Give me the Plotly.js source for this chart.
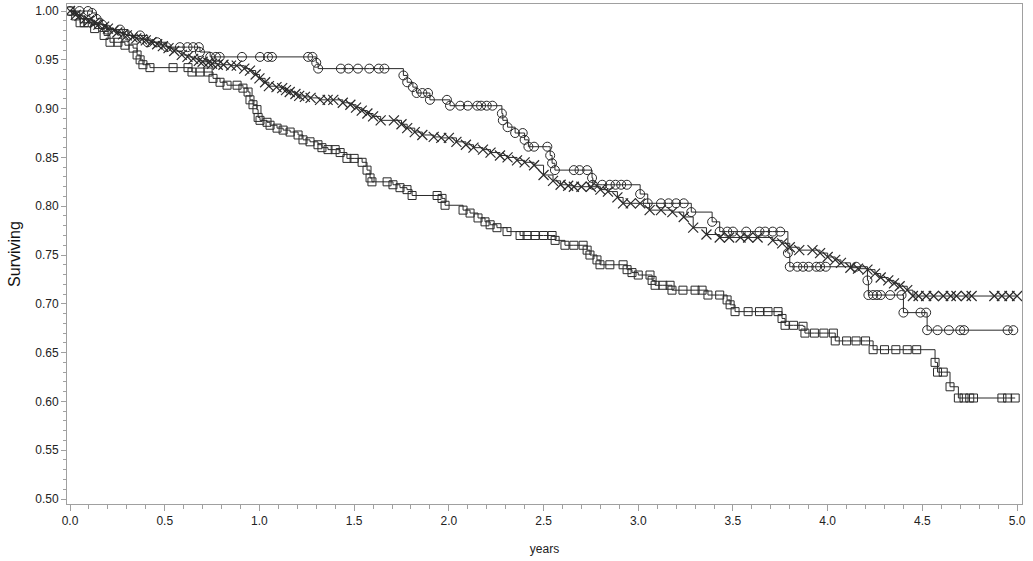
<!DOCTYPE html>
<html>
<head>
<meta charset="utf-8">
<script src="https://cdn.plot.ly/plotly-3.0.1.min.js"></script>
<style>
  body { margin: 0; background: #fff; }
  #plot { width: 1033px; height: 561px; }
</style>
</head>
<body>
<div id="plot"></div>
<script>
// Kaplan-Meier style survival curves, three groups.

// group drawn with circles
var tCirc = [0, 0.05, 0.095, 0.116, 0.14, 0.17, 0.195, 0.264, 0.306, 0.37, 0.41, 0.46, 0.51, 0.58, 0.62, 0.65, 0.68,
    0.686, 0.74, 0.77, 0.79, 0.908, 1.003, 1.045, 1.066, 1.257, 1.28, 1.30, 1.31, 1.43, 1.47, 1.52,
    1.58, 1.63, 1.66, 1.76, 1.78, 1.81, 1.83, 1.86, 1.89, 1.90, 1.99, 2.006, 2.06, 2.10, 2.15,
    2.17, 2.20, 2.23, 2.28, 2.285, 2.31, 2.35, 2.39, 2.40, 2.42, 2.45, 2.52, 2.535, 2.545, 2.56,
    2.66, 2.69, 2.73, 2.756, 2.76, 2.81, 2.85, 2.88, 2.91, 2.94, 3.01, 3.05, 3.12, 3.16, 3.20,
    3.24, 3.28, 3.39, 3.43, 3.47, 3.50, 3.57, 3.64, 3.67, 3.71, 3.75, 3.79, 3.80, 3.84, 3.87, 3.90,
    3.94, 3.96, 3.99, 4.15, 4.21, 4.215, 4.24, 4.26, 4.28, 4.33, 4.39, 4.40, 4.49, 4.52, 4.525,
    4.58, 4.64, 4.70, 4.72, 4.95, 4.98];
var sCirc = [1.0, 1.0, 1.0, 0.998, 0.992, 0.986, 0.981, 0.981, 0.975, 0.975, 0.968, 0.968, 0.963, 0.963, 0.963, 0.963, 0.963,
    0.958, 0.953, 0.953, 0.953, 0.953, 0.953, 0.953, 0.953, 0.953, 0.953, 0.947, 0.941, 0.941, 0.941, 0.941,
    0.941, 0.941, 0.941, 0.934, 0.927, 0.922, 0.916, 0.916, 0.916, 0.909, 0.909, 0.903, 0.903, 0.903, 0.903,
    0.903, 0.903, 0.903, 0.895, 0.888, 0.881, 0.875, 0.875, 0.868, 0.861, 0.861, 0.861, 0.852, 0.844, 0.837,
    0.837, 0.837, 0.837, 0.829, 0.822, 0.822, 0.822, 0.822, 0.822, 0.822, 0.8125, 0.803, 0.803, 0.803, 0.803,
    0.803, 0.794, 0.784, 0.774, 0.774, 0.774, 0.774, 0.774, 0.774, 0.774, 0.774, 0.752, 0.738, 0.738, 0.738, 0.738,
    0.738, 0.738, 0.738, 0.738, 0.724, 0.709, 0.709, 0.709, 0.709, 0.709, 0.709, 0.691, 0.691, 0.691, 0.673,
    0.673, 0.673, 0.673, 0.673, 0.673, 0.673];

// group drawn with crosses
var tCross = [0, 0.03, 0.05, 0.08, 0.1, 0.13, 0.15, 0.18, 0.2, 0.23, 0.25, 0.28, 0.3, 0.33, 0.35, 0.38, 0.40,
    0.43, 0.46, 0.49, 0.52, 0.55, 0.59, 0.62, 0.65, 0.68, 0.70, 0.73, 0.75, 0.78, 0.81, 0.85, 0.88,
    0.92, 0.95, 0.98, 1.0, 1.03, 1.05, 1.09, 1.12, 1.14, 1.16, 1.19, 1.21, 1.24, 1.27, 1.32, 1.36,
    1.39, 1.44, 1.48, 1.51, 1.54, 1.57, 1.60, 1.64, 1.71, 1.75, 1.78, 1.82, 1.86, 1.92, 1.96, 2.0,
    2.04, 2.09, 2.13, 2.18, 2.22, 2.27, 2.31, 2.36, 2.40, 2.45, 2.50, 2.55, 2.59, 2.63, 2.66, 2.70,
    2.75, 2.80, 2.84, 2.89, 2.92, 2.96, 3.01, 3.06, 3.12, 3.18, 3.24, 3.29, 3.36, 3.43, 3.48, 3.54,
    3.58, 3.63, 3.71, 3.76, 3.80, 3.85, 3.92, 3.96, 4.0, 4.04, 4.07, 4.12, 4.16, 4.21, 4.25, 4.28,
    4.32, 4.35, 4.38, 4.42, 4.45, 4.48, 4.52, 4.56, 4.61, 4.65, 4.68, 4.73, 4.76, 4.88, 4.92, 4.96, 5.0];
var sCross = [1.0, 0.996, 0.995, 0.992, 0.99, 0.988, 0.986, 0.984, 0.982, 0.980, 0.978, 0.976, 0.975, 0.973, 0.972, 0.971, 0.970,
    0.968, 0.966, 0.964, 0.962, 0.959, 0.955, 0.953, 0.951, 0.949, 0.948, 0.947, 0.946, 0.945, 0.945, 0.944, 0.944,
    0.941, 0.939, 0.935, 0.931, 0.927, 0.923, 0.922, 0.921, 0.919, 0.917, 0.915, 0.913, 0.912, 0.911, 0.909, 0.909,
    0.909, 0.906, 0.904, 0.901, 0.898, 0.895, 0.892, 0.888, 0.888, 0.884, 0.880, 0.876, 0.873, 0.871, 0.870, 0.870,
    0.866, 0.863, 0.860, 0.858, 0.855, 0.852, 0.850, 0.847, 0.845, 0.842, 0.832, 0.826, 0.822, 0.821, 0.820, 0.820,
    0.820, 0.817, 0.815, 0.809, 0.803, 0.803, 0.803, 0.796, 0.796, 0.794, 0.789, 0.778, 0.771, 0.768, 0.768, 0.768,
    0.768, 0.768, 0.765, 0.762, 0.758, 0.755, 0.755, 0.752, 0.748, 0.745, 0.742, 0.737, 0.736, 0.735, 0.731, 0.727,
    0.724, 0.721, 0.718, 0.714, 0.708, 0.708, 0.708, 0.708, 0.708, 0.708, 0.708, 0.708, 0.708, 0.708, 0.708, 0.708, 0.708];

// group drawn with squares
var tSq = [0, 0.03, 0.053, 0.075, 0.095, 0.13, 0.18, 0.211, 0.253, 0.29, 0.333, 0.354, 0.37, 0.385, 0.422,
    0.544, 0.623, 0.644, 0.686, 0.729, 0.755, 0.792, 0.829, 0.882, 0.913, 0.940, 0.950, 0.966, 0.987,
    0.993, 1.003, 1.04, 1.056, 1.093, 1.125, 1.162, 1.204, 1.23, 1.267, 1.309, 1.33, 1.362, 1.40,
    1.426, 1.462, 1.50, 1.542, 1.568, 1.584, 1.594, 1.674, 1.705, 1.742, 1.779, 1.806, 1.938, 1.964,
    1.98, 2.075, 2.112, 2.154, 2.191, 2.218, 2.254, 2.307, 2.376, 2.413, 2.455, 2.50, 2.545, 2.561,
    2.613, 2.66, 2.709, 2.73, 2.745, 2.782, 2.798, 2.85, 2.92, 2.941, 2.967, 3.00, 3.062, 3.073,
    3.089, 3.13, 3.168, 3.178, 3.236, 3.30, 3.337, 3.368, 3.43, 3.469, 3.485, 3.511, 3.58, 3.64,
    3.685, 3.738, 3.759, 3.775, 3.82, 3.87, 3.88, 3.93, 3.98, 4.03, 4.04, 4.10, 4.15, 4.20, 4.24,
    4.30, 4.36, 4.42, 4.47, 4.567, 4.58, 4.61, 4.646, 4.69, 4.72, 4.75, 4.77, 4.92, 4.95, 4.99];
var sSq = [1.0, 0.995, 0.988, 0.988, 0.988, 0.982, 0.975, 0.968, 0.968, 0.965, 0.962, 0.955, 0.950, 0.945, 0.942,
    0.942, 0.942, 0.9375, 0.9375, 0.9375, 0.931, 0.927, 0.924, 0.924, 0.921, 0.917, 0.909, 0.904, 0.899,
    0.891, 0.888, 0.886, 0.883, 0.880, 0.878, 0.876, 0.873, 0.868, 0.866, 0.863, 0.860, 0.858, 0.858,
    0.855, 0.849, 0.849, 0.845, 0.837, 0.829, 0.825, 0.825, 0.822, 0.819, 0.817, 0.811, 0.811, 0.808,
    0.801, 0.796, 0.793, 0.788, 0.784, 0.781, 0.778, 0.774, 0.770, 0.770, 0.770, 0.770, 0.770, 0.765,
    0.760, 0.760, 0.760, 0.755, 0.750, 0.745, 0.740, 0.740, 0.740, 0.735, 0.732, 0.7295, 0.7295, 0.724,
    0.719, 0.719, 0.719, 0.714, 0.714, 0.714, 0.714, 0.709, 0.709, 0.704, 0.699, 0.692, 0.692, 0.692,
    0.692, 0.692, 0.685, 0.678, 0.678, 0.677, 0.670, 0.670, 0.670, 0.670, 0.662, 0.662, 0.662, 0.662, 0.653,
    0.653, 0.653, 0.653, 0.653, 0.640, 0.630, 0.630, 0.615, 0.6035, 0.6035, 0.6035, 0.6035, 0.6035, 0.6035, 0.6035];

var ink = '#2a2a2a';
var axisGrey = '#a0a0a0';

function curve(t, s, symbol, size, width) {
    return {
        x: t, y: s,
        mode: 'lines+markers',
        line: { shape: 'hv', color: ink, width: 1 },
        marker: { symbol: symbol, size: size, color: ink, line: { color: ink, width: width } },
        showlegend: false,
        hoverinfo: 'skip'
    };
}

var traces = [
    curve(tSq, sSq, 'square-open', 8, 1),
    curve(tCross, sCross, 'x-thin-open', 10, 1.2),
    curve(tCirc, sCirc, 'circle-open', 9, 1)
];

var layout = {
    width: 1033,
    height: 561,
    margin: { l: 67, r: 11, t: 4, b: 57 },
    paper_bgcolor: '#ffffff',
    plot_bgcolor: '#ffffff',
    font: { family: 'Liberation Sans, Arial, sans-serif', color: '#222222', size: 12 },
    showlegend: false,
    xaxis: {
        range: [-0.016, 5.026],
        tickmode: 'linear', tick0: 0, dtick: 0.5, tickformat: '.1f',
        ticks: 'outside', ticklen: 6, tickcolor: axisGrey, tickwidth: 1,
        minor: { dtick: 0.1, ticks: 'outside', ticklen: 4, tickcolor: axisGrey, showgrid: false },
        showline: true, linecolor: axisGrey, linewidth: 1, mirror: true,
        showgrid: false, zeroline: false,
        tickfont: { size: 12, color: '#222222' },
        title: { text: 'years', font: { size: 12, color: '#222222' }, standoff: 17 }
    },
    yaxis: {
        range: [0.4949, 1.0072],
        tickmode: 'linear', tick0: 0.5, dtick: 0.05, tickformat: '.2f',
        ticks: 'outside', ticklen: 5, tickcolor: axisGrey, tickwidth: 1,
        minor: { dtick: 0.01, ticks: 'outside', ticklen: 3, tickcolor: axisGrey, showgrid: false },
        showline: true, linecolor: axisGrey, linewidth: 1, mirror: true,
        showgrid: false, zeroline: false,
        tickfont: { size: 12, color: '#222222' },
        title: { text: 'Surviving', font: { size: 16, color: '#111111' }, standoff: 10 }
    }
};

Plotly.newPlot('plot', traces, layout, { displayModeBar: false, staticPlot: true });
</script>
</body>
</html>
